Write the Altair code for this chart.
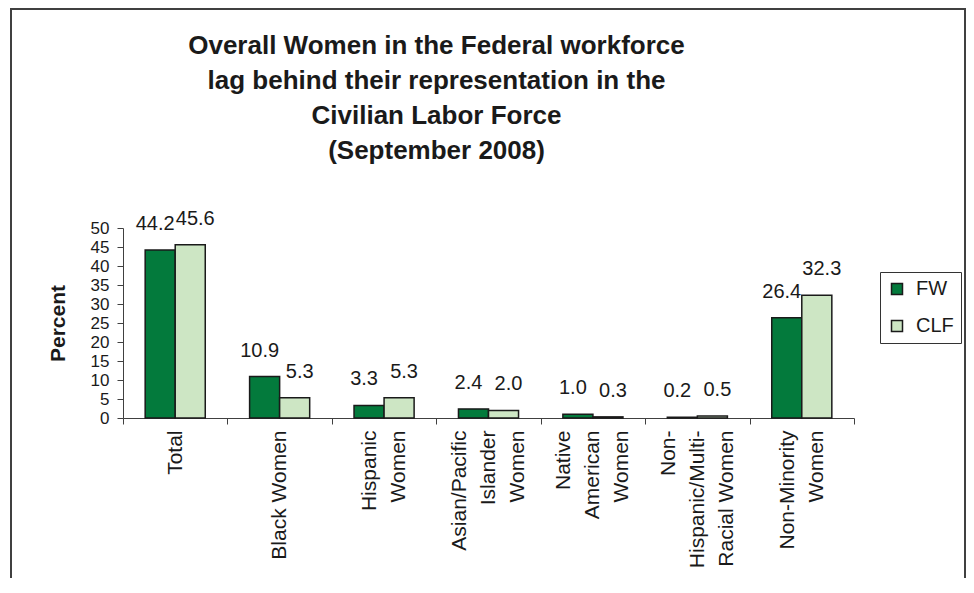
import altair as alt
import pandas as pd

# ---- data ----
categories = [
    "Total",
    "Black Women",
    "Hispanic\nWomen",
    "Asian/Pacific\nIslander\nWomen",
    "Native\nAmerican\nWomen",
    "Non-\nHispanic/Multi-\nRacial Women",
    "Non-Minority\nWomen",
]
series = ["FW", "CLF"]
fw_values = [44.2, 10.9, 3.3, 2.4, 1.0, 0.2, 26.4]
clf_values = [45.6, 5.3, 5.3, 2.0, 0.3, 0.5, 32.3]
y_ticks = [0, 5, 10, 15, 20, 25, 30, 35, 40, 45, 50]
title_lines = [
    "Overall Women in the Federal workforce",
    "lag behind their representation in the",
    "Civilian Labor Force",
    "(September 2008)",
]
colors = ["#037A3C", "#CDE6C4"]

rows = []
for c, f, l in zip(categories, fw_values, clf_values):
    rows.append({"category": c, "series": "FW", "value": f, "label": f"{f:.1f}"})
    rows.append({"category": c, "series": "CLF", "value": l, "label": f"{l:.1f}"})
df = pd.DataFrame(rows)

FONT = "Liberation Sans"
INK = "#1a1a1a"
LINE_H = 29

x_enc = alt.X(
    "category:N",
    sort=categories,
    title=None,
    scale=alt.Scale(paddingInner=0, paddingOuter=0),
    axis=alt.Axis(
        labelAngle=-90,
        labelAlign="right",
        labelBaseline="middle",
        labelExpr="split(datum.label, '\\n')",
        labelFontSize=21,
        labelLineHeight=LINE_H,
        labelFont=FONT,
        labelColor=INK,
        labelPadding=6,
        labelLimit=400,
        labelOverlap=False,
        labelOffset={
            "condition": [
                {"test": "length(split(datum.value, '\\n')) == 2", "value": -LINE_H / 2},
                {"test": "length(split(datum.value, '\\n')) == 3", "value": -LINE_H},
            ],
            "value": 0,
        },
        tickBand="extent",
        tickSize=6,
        tickColor="#404040",
        domainColor="#404040",
        grid=False,
    ),
)

y_enc = alt.Y(
    "value:Q",
    scale=alt.Scale(domain=[0, 50], nice=False),
    axis=alt.Axis(
        values=y_ticks,
        title="Percent",
        titleFont=FONT,
        titleFontSize=21,
        titleFontWeight="bold",
        titleColor=INK,
        titlePadding=22,
        labelFont=FONT,
        labelFontSize=17,
        labelColor=INK,
        labelPadding=8,
        labelOverlap=False,
        tickSize=6,
        tickColor="#404040",
        domainColor="#404040",
        grid=False,
    ),
)

xoff_enc = alt.XOffset(
    "series:N",
    sort=series,
    scale=alt.Scale(domain=series, paddingInner=0, paddingOuter=0.738),
)

bars = alt.Chart(df).mark_bar(stroke=INK, strokeWidth=1.5).encode(
    x=x_enc,
    y=y_enc,
    xOffset=xoff_enc,
    color=alt.Color(
        "series:N",
        sort=series,
        scale=alt.Scale(domain=series, range=colors),
        legend=alt.Legend(
            title=None,
            orient="none",
            legendX=757,
            legendY=44,
            symbolType="square",
            symbolSize=121,
            symbolStrokeColor=INK,
            symbolStrokeWidth=1.5,
            labelFont=FONT,
            labelFontSize=20,
            labelColor=INK,
            labelOffset=9,
            rowPadding=17,
            padding=7,
            strokeColor="#333333",
            fillColor="white",
        ),
    ),
)

text_base = alt.Chart(df).encode(x=x_enc, y=y_enc, xOffset=xoff_enc, text="label:N")
labels_fw = text_base.transform_filter(alt.datum.series == "FW").mark_text(
    baseline="alphabetic", dy=-20, dx=-5, fontSize=20, font=FONT, color=INK
)
labels_clf = text_base.transform_filter(alt.datum.series == "CLF").mark_text(
    baseline="alphabetic", dy=-20, dx=5, fontSize=20, font=FONT, color=INK
)

frame = alt.Chart(pd.DataFrame({"f": [0]})).mark_rect(
    filled=False, stroke="#404040", strokeWidth=2
).encode(
    x=alt.value(-112), x2=alt.value(842), y=alt.value(-219), y2=alt.value(380)
)

chart = (
    alt.layer(frame, bars, labels_fw, labels_clf)
    .properties(
        width=731,
        height=190,
        autosize=alt.AutoSizeParams(type="none"),
        padding={"left": 115, "top": 220, "right": 112, "bottom": 160},
        title=alt.TitleParams(
            text=title_lines,
            font=FONT,
            fontSize=26,
            fontWeight="bold",
            color=INK,
            lineHeight=35,
            anchor="middle",
            frame="group",
            baseline="bottom",
            dx=-52,
            offset=-182,
        ),
    )
    .configure_view(stroke="transparent")
)

chart.save("out.html", embed_options={"renderer": "svg", "actions": False})
